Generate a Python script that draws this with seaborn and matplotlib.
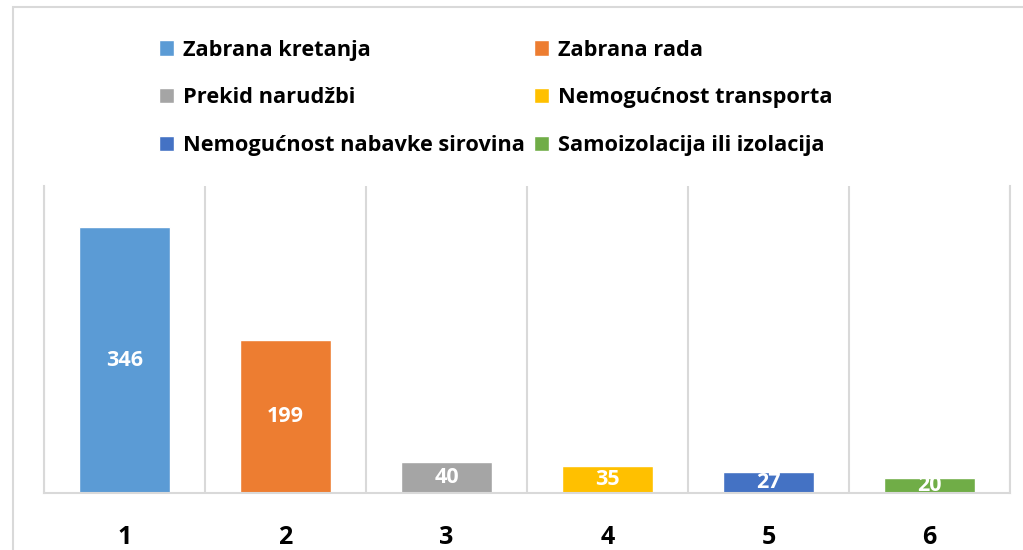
#!/usr/bin/env python3
"""
Bar chart of reasons for business disruption (ranked 1-6), with legend on top.
"""
import matplotlib
matplotlib.use("Agg")
import matplotlib.pyplot as plt
from matplotlib.patches import Rectangle
import seaborn as sns

# Data
ranks = ["1", "2", "3", "4", "5", "6"]
causes = [
    "Zabrana kretanja",
    "Zabrana rada",
    "Prekid narudžbi",
    "Nemogućnost transporta",
    "Nemogućnost nabavke sirovina",
    "Samoizolacija ili izolacija",
]
counts = [346, 199, 40, 35, 27, 20]
colors = ["#5B9BD5", "#ED7D31", "#A5A5A5", "#FFC000", "#4472C4", "#70AD47"]

GRID = "#D9D9D9"


def main():
    sns.set_style("white")
    plt.rcParams["font.family"] = ["Open Sans", "DejaVu Sans"]
    plt.rcParams["text.color"] = "black"
    plt.rcParams["xtick.color"] = "black"

    fig = plt.figure(figsize=(10.23, 5.5), dpi=100)
    ax = fig.add_axes([44 / 1023, 57 / 550, 966 / 1023, 307 / 550])

    sns.barplot(x=ranks, y=counts, hue=causes, hue_order=causes,
                palette=colors, dodge=False, width=0.56, ax=ax,
                saturation=1)

    # Value labels centred inside the bars
    for cont in ax.containers:
        texts = ax.bar_label(cont, label_type="center", color="white",
                             fontsize=15.5, fontweight="bold")
        for t in texts:
            t.set_clip_on(True)

    ax.set_ylim(0, 400)
    ax.set_xlim(-0.5, len(ranks) - 0.5)
    ax.set_yticks([])
    ax.set_xlabel("")
    ax.set_ylabel("")

    # Vertical separators between categories
    ax.set_xticks([i + 0.5 for i in range(-1, len(ranks))], minor=True)
    ax.grid(True, which="minor", axis="x", color=GRID, linewidth=1.5)
    ax.tick_params(axis="x", which="both", length=0, labelsize=18,
                   pad=23, labelcolor="black")
    for lbl in ax.get_xticklabels():
        lbl.set_fontweight("bold")

    for side in ["left", "right", "bottom"]:
        ax.spines[side].set_color(GRID)
        ax.spines[side].set_linewidth(1.5)
    ax.spines["top"].set_visible(False)

    # Legend laid out row by row (two columns)
    handles, labels = ax.get_legend_handles_labels()
    order = [0, 2, 4, 1, 3, 5]
    leg = ax.legend([handles[i] for i in order], [labels[i] for i in order],
                    ncol=2, loc="upper left",
                    bbox_to_anchor=(150 / 1023, 519 / 550),
                    bbox_transform=fig.transFigure, frameon=False,
                    prop={"size": 15.7, "weight": "bold"},
                    handlelength=0.72, handleheight=0.72, handletextpad=0.4,
                    labelspacing=1.22, columnspacing=0.4, borderaxespad=0)
    for t in leg.get_texts():
        t.set_color("black")

    # Chart-area border (cropped at right and bottom in the original)
    fig.add_artist(Rectangle((13 / 1023, -0.2), 1.5, (543 / 550) + 0.2,
                             transform=fig.transFigure, fill=False,
                             edgecolor=GRID, linewidth=1.5))

    fig.savefig("out.png", dpi=100)


if __name__ == "__main__":
    main()
